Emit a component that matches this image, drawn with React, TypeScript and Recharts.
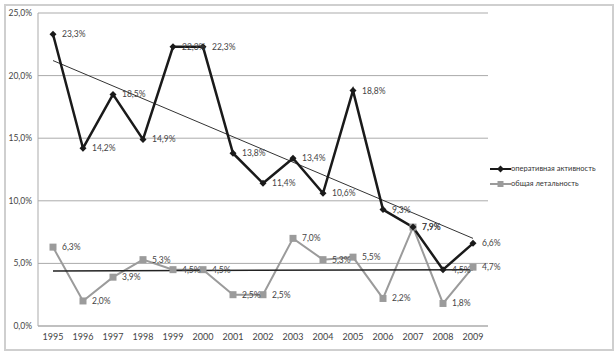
import React from 'react';
import { LineChart, Line, XAxis, YAxis, CartesianGrid, LabelList } from 'recharts';

const years = ['1995', '1996', '1997', '1998', '1999', '2000', '2001', '2002', '2003', '2004', '2005', '2006', '2007', '2008', '2009'];
const activity = [23.3, 14.2, 18.5, 14.9, 22.3, 22.3, 13.8, 11.4, 13.4, 10.6, 18.8, 9.3, 7.9, 4.5, 6.6];
const lethality = [6.3, 2.0, 3.9, 5.3, 4.5, 4.5, 2.5, 2.5, 7.0, 5.3, 5.5, 2.2, 7.9, 1.8, 4.7];
// trend line end points (first / last year)
const activityTrend = [21.2, 7.0];
const lethalityTrend = [4.4, 4.5];
const yTicks = [0, 5, 10, 15, 20, 25];

const SERIES_A = 'оперативная активность';
const SERIES_L = 'общая летальность';

const data = years.map((name, i) => ({
  name,
  activity: activity[i],
  lethality: lethality[i],
  trendA: i === 0 ? activityTrend[0] : i === years.length - 1 ? activityTrend[1] : null,
  trendL: i === 0 ? lethalityTrend[0] : i === years.length - 1 ? lethalityTrend[1] : null,
}));

const pct = (v: any) => (typeof v === 'number' ? v.toFixed(1).replace('.', ',') + '%' : '');

const FONT = 'Lato, "Open Sans", sans-serif';

const Diamond = (props: any) => {
  const { cx, cy } = props;
  if (cx == null || cy == null) return null;
  const r = 3.5;
  return <polygon points={`${cx},${cy - r} ${cx + r},${cy} ${cx},${cy + r} ${cx - r},${cy}`} fill="#1a1a1a" />;
};

const Square = (props: any) => {
  const { cx, cy } = props;
  if (cx == null || cy == null) return null;
  return <rect x={cx - 3.5} y={cy - 3.5} width={7} height={7} fill="#9b9b9b" />;
};

// legend drawn beside the plot, outside recharts layout so it doesn't shrink the plot
const ChartLegend = () => (
  <div style={{ position: 'absolute', left: 490, top: 161, fontFamily: FONT, fontSize: 7.5, color: '#333', lineHeight: '15px' }}>
    <div style={{ display: 'flex', alignItems: 'center' }}>
      <svg width={21} height={8}>
        <line x1={0} y1={4} x2={21} y2={4} stroke="#1a1a1a" strokeWidth={2} />
        <polygon points="10.5,0.5 14,4 10.5,7.5 7,4" fill="#1a1a1a" />
      </svg>
      <span>{SERIES_A}</span>
    </div>
    <div style={{ display: 'flex', alignItems: 'center' }}>
      <svg width={21} height={8}>
        <line x1={0} y1={4} x2={21} y2={4} stroke="#9b9b9b" strokeWidth={2} />
        <rect x={7.5} y={1} width={6} height={6} fill="#9b9b9b" />
      </svg>
      <span>{SERIES_L}</span>
    </div>
  </div>
);

export default function App() {
  return (
    <div style={{ position: 'absolute', left: 0, top: 0, width: 616, height: 353, background: '#fff' }}>
      <div style={{ position: 'absolute', left: 4, top: 4, width: 606, height: 343, border: '2px solid #cfcfcf' }} />
      <LineChart width={616} height={353} data={data} margin={{ top: 13, right: 128, bottom: 0, left: 0 }}>
        <CartesianGrid vertical={false} stroke="#ababab" />
        <XAxis
          dataKey="name"
          height={27}
          padding={{ left: 15, right: 15 }}
          tickLine={false}
          axisLine={{ stroke: '#ababab' }}
          tick={{ fontSize: 9, fill: '#444', fontFamily: FONT }}
          tickMargin={2}
          interval={0}
        />
        <YAxis
          width={38}
          domain={[0, 25]}
          ticks={yTicks}
          tickFormatter={pct}
          tickLine={false}
          tickSize={4}
          tickMargin={2}
          axisLine={{ stroke: '#ababab' }}
          tick={{ fontSize: 8.5, fill: '#444', fontFamily: FONT }}
        />
        <Line
          dataKey="lethality"
          name={SERIES_L}
          stroke="#9b9b9b"
          strokeWidth={2}
          dot={<Square />}
          activeDot={false}
          isAnimationActive={false}
        >
          <LabelList dataKey="lethality" position="right" offset={9} formatter={pct} style={{ fontSize: 8.5, fill: '#444', fontFamily: FONT }} />
        </Line>
        <Line dataKey="trendL" stroke="#222" strokeWidth={1.5} dot={false} activeDot={false} connectNulls isAnimationActive={false} />
        <Line dataKey="trendA" stroke="#333" strokeWidth={1} dot={false} activeDot={false} connectNulls isAnimationActive={false} />
        <Line
          dataKey="activity"
          name={SERIES_A}
          stroke="#1a1a1a"
          strokeWidth={2.5}
          dot={<Diamond />}
          activeDot={false}
          isAnimationActive={false}
        >
          <LabelList dataKey="activity" position="right" offset={9} formatter={pct} style={{ fontSize: 8.5, fill: '#444', fontFamily: FONT }} />
        </Line>
      </LineChart>
      <ChartLegend />
    </div>
  );
}
